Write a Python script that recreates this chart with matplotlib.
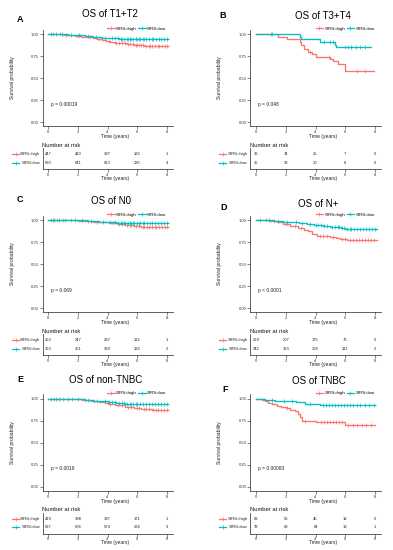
import matplotlib
matplotlib.use('Agg')
import matplotlib.pyplot as plt
import matplotlib.transforms as mtransforms
from matplotlib.lines import Line2D
import numpy as np

plt.rcParams['font.family'] = ['Liberation Sans', 'DejaVu Sans']

W, H = 393, 550
RED = '#F8766D'
CYAN = '#00BFC4'

# ---- data ----
titles = ['OS of T1+T2', 'OS of T3+T4', 'OS of N0', 'OS of N+', 'OS of non-TNBC', 'OS of TNBC']
letters = ['A', 'B', 'C', 'D', 'E', 'F']
pvals = ['p = 0.00019', 'p = 0.048', 'p = 0.069', 'p < 0.0001', 'p = 0.0019', 'p = 0.00083']
risk_times = [0, 2, 4, 6, 8]

# A: T1+T2
a_high_t = [0, 0.6, 1.0, 1.4, 1.8, 2.2, 2.6, 3.0, 3.3, 3.6, 3.9, 4.2, 4.5, 4.9, 5.3, 5.8, 6.2, 6.5, 8.1]
a_high_s = [1.0, 0.996, 0.99, 0.985, 0.978, 0.97, 0.962, 0.952, 0.943, 0.932, 0.92, 0.91, 0.9, 0.893, 0.886, 0.878, 0.872, 0.868, 0.868]
a_high_c = [0.3, 0.8, 1.2, 2.0, 2.8, 3.4, 4.1, 4.6, 4.8, 5.0, 5.2, 5.4, 5.5, 5.7, 5.9, 6.0, 6.1, 6.3, 6.4, 6.6, 6.8, 6.9, 7.0, 7.2, 7.4, 7.5, 7.7, 7.9, 8.0]
a_low_t = [0, 0.8, 1.3, 1.9, 2.5, 3.0, 3.6, 4.2, 4.8, 5.2, 5.8, 6.3, 8.1]
a_low_s = [1.0, 0.997, 0.992, 0.985, 0.977, 0.968, 0.958, 0.952, 0.947, 0.944, 0.942, 0.94, 0.94]
a_low_c = [0.2, 0.5, 0.9, 1.5, 2.1, 2.7, 3.2, 3.8, 4.3, 4.5, 4.7, 4.9, 5.0, 5.1, 5.3, 5.4, 5.5, 5.6, 5.7, 5.9, 6.0, 6.1, 6.2, 6.4, 6.5, 6.6, 6.8, 7.0, 7.1, 7.3, 7.5, 7.6, 7.8, 8.0]
a_risk_high = [447, 420, 397, 182, 1]
a_risk_low = [670, 641, 613, 235, 4]

# B: T3+T4
b_high_t = [0, 1.5, 2.1, 2.96, 3.05, 3.2, 3.5, 3.75, 4.0, 5.0, 5.2, 5.5, 6.0, 7.9]
b_high_s = [1.0, 0.97, 0.94, 0.91, 0.88, 0.83, 0.80, 0.77, 0.74, 0.715, 0.69, 0.66, 0.58, 0.58]
b_high_c = [1.0, 3.6, 4.9, 6.8, 7.3]
b_low_t = [0, 2.96, 3.05, 4.3, 5.3, 5.4, 7.7]
b_low_s = [1.0, 0.97, 0.94, 0.91, 0.88, 0.85, 0.85]
b_low_c = [1.05, 4.6, 5.0, 5.2, 6.0, 6.2, 6.4, 6.7, 7.0, 7.3]
b_risk_high = [36, 34, 25, 7, 0]
b_risk_low = [35, 33, 30, 8, 0]

# C: N0
c_high_t = [0, 1.2, 2.0, 2.5, 3.0, 3.6, 4.1, 4.7, 5.2, 5.8, 6.3, 8.1]
c_high_s = [1.0, 0.997, 0.993, 0.988, 0.982, 0.974, 0.962, 0.95, 0.94, 0.93, 0.917, 0.917]
c_high_c = [0.3, 0.6, 1.0, 1.5, 2.7, 3.3, 4.4, 4.8, 5.0, 5.3, 5.5, 5.6, 5.9, 6.1, 6.4, 6.5, 6.7, 6.8, 7.0, 7.2, 7.3, 7.5, 7.7, 7.9, 8.0]
c_low_t = [0, 1.5, 2.6, 3.4, 4.0, 4.6, 5.3, 8.1]
c_low_s = [1.0, 0.996, 0.99, 0.982, 0.975, 0.969, 0.963, 0.963]
c_low_c = [0.2, 0.4, 0.7, 1.1, 1.8, 2.3, 2.9, 3.7, 4.2, 4.5, 4.7, 4.9, 5.0, 5.1, 5.2, 5.4, 5.5, 5.6, 5.7, 5.8, 6.0, 6.1, 6.2, 6.4, 6.5, 6.7, 6.9, 7.0, 7.2, 7.4, 7.6, 7.8, 8.0]
c_risk_high = [253, 247, 237, 113, 1]
c_risk_low = [363, 351, 339, 132, 2]

# D: N+
d_high_t = [0, 0.5, 0.9, 1.4, 1.8, 2.3, 2.8, 3.2, 3.5, 3.75, 4.1, 4.6, 5.0, 5.4, 5.65, 6.1, 8.1]
d_high_s = [1.0, 0.995, 0.985, 0.975, 0.955, 0.93, 0.91, 0.89, 0.87, 0.845, 0.82, 0.815, 0.81, 0.795, 0.785, 0.775, 0.775]
d_high_c = [0.7, 1.2, 2.0, 2.6, 3.0, 4.3, 4.5, 4.8, 5.2, 5.8, 6.0, 6.3, 6.5, 6.7, 6.9, 7.1, 7.3, 7.5, 7.7, 7.9]
d_low_t = [0, 0.6, 1.2, 1.8, 2.4, 2.9, 3.4, 3.9, 4.5, 5.0, 5.4, 5.7, 6.0, 8.1]
d_low_s = [1.0, 0.997, 0.99, 0.982, 0.972, 0.962, 0.952, 0.943, 0.935, 0.925, 0.915, 0.908, 0.902, 0.902]
d_low_c = [0.3, 0.9, 1.5, 2.1, 2.7, 3.1, 3.6, 4.0, 4.2, 4.4, 4.6, 4.8, 5.1, 5.3, 5.5, 5.6, 5.8, 5.9, 6.1, 6.3, 6.4, 6.6, 6.8, 7.0, 7.2, 7.4, 7.6, 7.8, 8.0]
d_risk_high = [229, 207, 175, 76, 0]
d_risk_low = [342, 323, 304, 111, 2]

# E: non-TNBC
e_high_t = [0, 0.8, 1.4, 1.8, 2.3, 2.9, 3.4, 3.8, 4.0, 4.5, 5.2, 5.8, 6.3, 7.0, 8.1]
e_high_s = [1.0, 0.997, 0.993, 0.99, 0.983, 0.973, 0.962, 0.95, 0.94, 0.925, 0.905, 0.89, 0.88, 0.875, 0.875]
e_high_c = [0.4, 1.0, 1.6, 2.5, 3.1, 4.2, 4.7, 5.0, 5.4, 5.6, 6.0, 6.1, 6.5, 6.6, 6.8, 7.1, 7.3, 7.4, 7.6, 7.8, 8.0]
e_low_t = [0, 1.0, 1.8, 2.5, 3.0, 3.5, 4.0, 4.6, 5.2, 5.8, 6.3, 8.1]
e_low_s = [1.0, 0.997, 0.99, 0.983, 0.977, 0.968, 0.96, 0.952, 0.943, 0.938, 0.935, 0.935]
e_low_c = [0.2, 0.5, 0.7, 1.3, 2.0, 2.7, 3.3, 3.8, 4.1, 4.3, 4.5, 4.8, 5.0, 5.1, 5.3, 5.5, 5.6, 5.7, 5.9, 6.0, 6.2, 6.4, 6.6, 6.8, 7.0, 7.2, 7.4, 7.6, 7.8, 8.0]
e_risk_high = [419, 398, 387, 171, 1]
e_risk_low = [627, 606, 579, 224, 3]

# F: TNBC
f_high_t = [0, 0.4, 0.6, 0.83, 1.05, 1.4, 1.7, 2.06, 2.3, 2.6, 2.85, 2.96, 3.1, 4.0, 6.0, 8.0]
f_high_s = [1.0, 0.985, 0.968, 0.952, 0.936, 0.92, 0.905, 0.889, 0.873, 0.857, 0.825, 0.794, 0.746, 0.73, 0.695, 0.695]
f_high_c = [2.1, 3.3, 4.4, 4.6, 4.8, 5.0, 5.2, 5.4, 5.6, 5.8, 6.2, 6.5, 6.8, 7.1, 7.4, 7.7]
f_low_t = [0, 0.6, 1.0, 1.3, 2.7, 3.3, 4.3, 8.0]
f_low_s = [1.0, 0.987, 0.98, 0.97, 0.955, 0.94, 0.925, 0.925]
f_low_c = [1.1, 1.9, 2.4, 3.6, 4.5, 4.7, 4.9, 5.1, 5.3, 5.5, 5.7, 5.9, 6.1, 6.3, 6.5, 6.8, 7.0, 7.3, 7.6, 7.9]
f_risk_high = [63, 56, 45, 18, 0]
f_risk_low = [78, 68, 64, 19, 1]

panels = [
    (a_high_t, a_high_s, a_high_c, a_low_t, a_low_s, a_low_c, a_risk_high, a_risk_low),
    (b_high_t, b_high_s, b_high_c, b_low_t, b_low_s, b_low_c, b_risk_high, b_risk_low),
    (c_high_t, c_high_s, c_high_c, c_low_t, c_low_s, c_low_c, c_risk_high, c_risk_low),
    (d_high_t, d_high_s, d_high_c, d_low_t, d_low_s, d_low_c, d_risk_high, d_risk_low),
    (e_high_t, e_high_s, e_high_c, e_low_t, e_low_s, e_low_c, e_risk_high, e_risk_low),
    (f_high_t, f_high_s, f_high_c, f_low_t, f_low_s, f_low_c, f_risk_high, f_risk_low),
]

# ---- layout (pixels) ----
col_x = [(42.5, 172.5), (250, 381)]
row_dy = [0, 186, 364.5]
letter_pos = [(20, 20), (223, 16), (20, 200), (224, 208), (20, 380), (225, 389)]
title_pos = [(110, 14), (323, 16), (111, 201), (318, 204), (106, 380), (319, 381)]


def box(l, t, r, b):
    return [l / W, 1 - b / H, (r - l) / W, (b - t) / H]


def surv_at(t, times, surv):
    i = np.searchsorted(times, t, side='right') - 1
    return surv[i]


def style(ax):
    for s in ['top', 'right']:
        ax.spines[s].set_visible(False)
    for s in ['left', 'bottom']:
        ax.spines[s].set_linewidth(0.5)
        ax.spines[s].set_color('#222222')
    ax.tick_params(length=2, width=0.4, pad=0.6, labelsize=3, colors='#222222',
                   labelcolor='#333333')
    ax.set_xlim(-0.4, 8.4)
    ax.set_xticks(risk_times)


fig = plt.figure(figsize=(W / 100, H / 100), dpi=100)

for k in range(6):
    ht, hs, hc, lt, ls, lc, rh, rl = panels[k]
    l, r = col_x[k % 2]
    dy = row_dy[k // 2]

    ax = fig.add_axes(box(l, 29.6 + dy, r, 126.4 + dy))
    style(ax)
    ax.set_ylim(-0.05, 1.05)
    ax.set_yticks([0, 0.25, 0.5, 0.75, 1.0])
    ax.set_yticklabels(['0.00', '0.25', '0.50', '0.75', '1.00'])
    for t, s, c, col in [(ht, hs, hc, RED), (lt, ls, lc, CYAN)]:
        ax.step(t, s, where='post', color=col, lw=0.95)
        cy = [surv_at(x, t, s) for x in c]
        ax.plot(c, cy, ls='none', marker='+', color=col, ms=2.5, mew=0.5)
    ax.text(0.15, 0.2, pvals[k], fontsize=3.5, va='center', ha='left', color='#222222')
    ax.set_xlabel('Time (years)', fontsize=3.6, color='#222222')
    ax.xaxis.set_label_coords(0.56, -0.08)
    ax.set_ylabel('Survival probability', fontsize=3.6, color='#222222')
    ax.yaxis.set_label_coords(-0.215, 0.5)
    handles = [Line2D([], [], color=RED, marker='+', lw=0.9, ms=2.5, mew=0.5),
               Line2D([], [], color=CYAN, marker='+', lw=0.9, ms=2.5, mew=0.5)]
    ax.legend(handles, ['SIRS=high', 'SIRS=low'], loc='center right',
              bbox_to_anchor=(0.95, 1.01), ncol=2, frameon=False, fontsize=3.2,
              handlelength=1.6, handletextpad=0.3, columnspacing=0.4,
              borderpad=0, borderaxespad=0)

    # number at risk table
    tx = fig.add_axes(box(l, 148 + dy, r, 169 + dy))
    style(tx)
    tx.set_ylim(-0.667, 1.667)
    tx.set_yticks([])
    for row_y, vals in [(1, rh), (0, rl)]:
        for t, n in zip(risk_times, vals):
            tx.text(t, row_y, str(n), fontsize=3, ha='center', va='center', color='#222222')
    tx.text(0, 1.14, 'Number at risk', fontsize=4.2, ha='left', va='center',
            transform=tx.transAxes, color='#111111')
    blend = mtransforms.blended_transform_factory(tx.transAxes, tx.transData)
    for row_y, col, lab in [(1, RED, 'SIRS=high'), (0, CYAN, 'SIRS=low')]:
        tx.plot([-0.235, -0.18], [row_y, row_y], color=col, lw=0.9,
                transform=blend, clip_on=False)
        tx.plot([-0.2075], [row_y], marker='+', color=col, ms=2.5, mew=0.5,
                transform=blend, clip_on=False)
        tx.text(-0.018, row_y, lab, fontsize=3.1, ha='right', va='center',
                transform=blend, color='#222222')
    tx.set_xlabel('Time (years)', fontsize=3.6, color='#222222')
    tx.xaxis.set_label_coords(0.56, -0.33)

    lx, ly = letter_pos[k]
    fig.text(lx / W, 1 - ly / H, letters[k], fontsize=6.5, fontweight='bold',
             ha='center', va='center')
    tx_, ty_ = title_pos[k]
    fig.text(tx_ / W, 1 - ty_ / H, titles[k], fontsize=7, ha='center', va='center')

fig.savefig('out.png', dpi=100)
